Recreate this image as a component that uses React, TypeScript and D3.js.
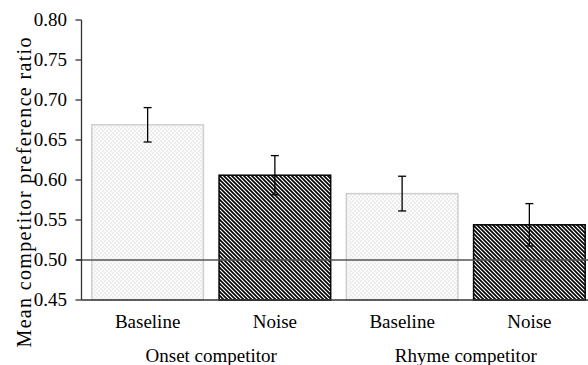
import React from "react";
import * as d3 from "d3";

const categories = ["Onset-Baseline", "Onset-Noise", "Rhyme-Baseline", "Rhyme-Noise"];
const tickLabels = ["Baseline", "Noise", "Baseline", "Noise"];
const conditions = ["baseline", "noise", "baseline", "noise"];
const means = [0.669, 0.606, 0.583, 0.544];
const errors = [0.0215, 0.0245, 0.0217, 0.0265];
const groupLabels = ["Onset competitor", "Rhyme competitor"];
const yTicks = [0.45, 0.5, 0.55, 0.6, 0.65, 0.7, 0.75, 0.8];
const referenceValue = 0.5;

const W = 588;
const H = 365;
const FONT = "'Liberation Serif', 'Times New Roman', Times, serif";

export default function App() {
  const y = d3.scaleLinear().domain([0.45, 0.8]).range([300, 20]);
  const x = d3
    .scaleBand<string>()
    .domain(categories)
    .range([84, 593])
    .paddingInner(0.123)
    .paddingOuter(0.0615);
  const axisX = 81.5;
  const bw = x.bandwidth();
  const groupCenters = [
    (x(categories[0])! + x(categories[1])!) / 2 + bw / 2,
    (x(categories[2])! + x(categories[3])!) / 2 + bw / 2,
  ];
  const textStyle = { fontFamily: FONT };

  return (
    <svg
      width={W}
      height={H}
      style={{ position: "absolute", left: 0, top: 0, background: "#fff" }}
    >
      <defs>
        <pattern id="dots" width="4" height="4" patternUnits="userSpaceOnUse">
          <rect width="4" height="4" fill="#fbfbfb" />
          <rect x="0.5" y="0.5" width="1" height="1" fill="#c4c4c4" />
          <rect x="2.5" y="2.5" width="1" height="1" fill="#c4c4c4" />
        </pattern>
        <pattern id="stripes" width="4" height="4" patternUnits="userSpaceOnUse">
          <rect width="4" height="4" fill="#fff" />
          <path d="M-1,-1 L5,5 M-1,3 L1,5 M3,-1 L5,1" stroke="#000" strokeWidth="1.6" />
        </pattern>
      </defs>

      {categories.map((c, i) => {
        const isBase = conditions[i] === "baseline";
        const x0 = x(c)!;
        const top = y(means[i]);
        return (
          <rect
            key={c}
            x={x0}
            y={top}
            width={bw}
            height={y(0.45) - top}
            fill={isBase ? "url(#dots)" : "url(#stripes)"}
            stroke={isBase ? "#cfcfcf" : "#000"}
            strokeWidth={1.5}
          />
        );
      })}

      <line x1={axisX - 5} x2={W} y1={y(referenceValue)} y2={y(referenceValue)} stroke="#555" strokeWidth={1.3} />

      {categories.map((c, i) => {
        const cx = x(c)! + bw / 2;
        const y1 = y(means[i] + errors[i]);
        const y2 = y(means[i] - errors[i]);
        return (
          <g key={"e" + c} stroke="#000" strokeWidth={1.3}>
            <line x1={cx} x2={cx} y1={y1} y2={y2} />
            <line x1={cx - 4} x2={cx + 4} y1={y1} y2={y1} />
            <line x1={cx - 4} x2={cx + 4} y1={y2} y2={y2} />
          </g>
        );
      })}

      <line x1={axisX} x2={axisX} y1={y(0.8)} y2={y(0.45)} stroke="#333" strokeWidth={1.3} />
      <line x1={axisX} x2={W} y1={y(0.45)} y2={y(0.45)} stroke="#333" strokeWidth={1.3} />
      {yTicks.map((t) => (
        <g key={t}>
          <line x1={axisX - 6} x2={axisX} y1={y(t)} y2={y(t)} stroke="#333" strokeWidth={1.3} />
          <text x={67} y={y(t)} dy="0.33em" textAnchor="end" fontSize={19} fill="#000" style={textStyle}>
            {t.toFixed(2)}
          </text>
        </g>
      ))}

      {categories.map((c, i) => (
        <text key={"t" + c} x={x(c)! + bw / 2} y={328} textAnchor="middle" fontSize={19} fill="#000" style={textStyle}>
          {tickLabels[i]}
        </text>
      ))}
      {groupLabels.map((g, i) => (
        <text key={g} x={groupCenters[i]} y={362} textAnchor="middle" fontSize={19} fill="#000" style={textStyle}>
          {g}
        </text>
      ))}

      <text
        transform={`translate(31, 192.5) rotate(-90)`}
        textAnchor="middle"
        fontSize={20}
        fill="#000"
        style={textStyle}
        textLength={310}
        lengthAdjust="spacing"
      >
        Mean competitor preference ratio
      </text>
    </svg>
  );
}
